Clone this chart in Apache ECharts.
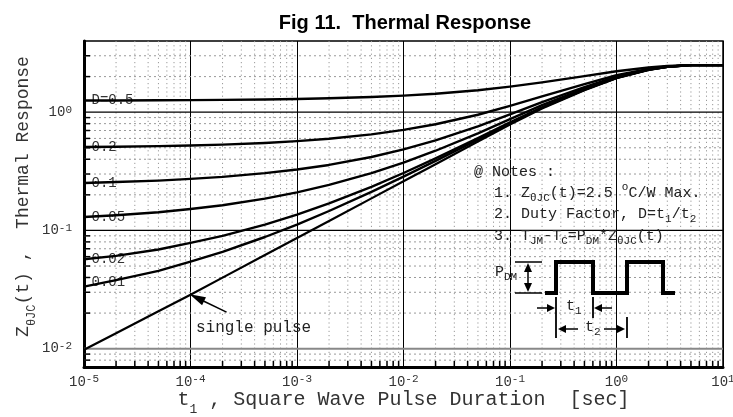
<!DOCTYPE html>
<html><head><meta charset="utf-8">
<script src="https://cdn.jsdelivr.net/npm/echarts@6/dist/echarts.min.js"></script>
<style>html,body{margin:0;padding:0;background:#fff}#c{width:733px;height:417px}</style>
</head><body><div id="c"></div>
<script>
const MONO = '"Liberation Mono", "DejaVu Sans Mono", monospace';
const SANS = '"Liberation Sans", Arial, sans-serif';

// ---- data ----
const pulseDuration = [1e-5, 2e-5, 5e-5, 1e-4, 2e-4, 5e-4, 1e-3, 2e-3, 5e-3, 1e-2, 2e-2, 5e-2, 0.1, 0.2, 0.5, 1, 2, 3, 5, 10];
const singlePulse = [0.0098, 0.01352, 0.0207, 0.02858, 0.0399, 0.0619, 0.0863, 0.1203, 0.1868, 0.2606, 0.3634, 0.5643, 0.787, 1.074, 1.535, 1.94, 2.28, 2.42, 2.5, 2.5];
const duty001 = [0.0335, 0.038, 0.0455, 0.0545, 0.066, 0.088, 0.112, 0.146, 0.212, 0.285, 0.387, 0.586, 0.806, 1.09, 1.55, 1.95, 2.29, 2.42, 2.5, 2.5];
const duty002 = [0.057, 0.061, 0.069, 0.0785, 0.090, 0.112, 0.136, 0.169, 0.234, 0.306, 0.407, 0.604, 0.822, 1.10, 1.555, 1.952, 2.285, 2.42, 2.5, 2.5];
const duty005 = [0.130, 0.1345, 0.1425, 0.152, 0.1635, 0.186, 0.210, 0.2425, 0.305, 0.375, 0.472, 0.663, 0.874, 1.146, 1.585, 1.97, 2.29, 2.424, 2.5, 2.5];
const duty01  = [0.252, 0.2565, 0.264, 0.273, 0.284, 0.305, 0.3275, 0.358, 0.418, 0.4845, 0.577, 0.758, 0.958, 1.217, 1.632, 1.996, 2.30, 2.428, 2.5, 2.5];
const duty02  = [0.507, 0.5108, 0.5166, 0.5229, 0.5319, 0.5495, 0.569, 0.5962, 0.6494, 0.7085, 0.7907, 0.9514, 1.1296, 1.3592, 1.728, 2.052, 2.324, 2.436, 2.5, 2.5];
const duty05  = [1.255, 1.2568, 1.2604, 1.2643, 1.27, 1.281, 1.293, 1.310, 1.343, 1.380, 1.432, 1.532, 1.6435, 1.787, 2.0175, 2.22, 2.39, 2.46, 2.5, 2.5];
const curveLabels = ['D=0.5', '0.2', '0.1', '0.05', '0.02', '0.01'];

const X_MIN = 1e-5, X_MAX = 10;
const Y_MIN = 0.007, Y_MAX = 4;
const xDecades = [1e-5, 1e-4, 1e-3, 1e-2, 1e-1, 1];
const minorMultipliers = [2, 3, 4, 5, 6, 7, 8, 9];
const yMinorTicks = [0.008, 0.009, 0.02, 0.03, 0.04, 0.05, 0.06, 0.07, 0.08, 0.09, 0.2, 0.3, 0.4, 0.5, 0.6, 0.7, 0.8, 0.9, 2, 3];
const yMajorTicks = [0.01, 0.1, 1];
const arrowTail = [2.18e-4, 0.0204];
const singleLabelAt = [1.125e-4, 0.0151];

const xMinorTicks = [];
xDecades.forEach(d => minorMultipliers.forEach(m => xMinorTicks.push(m * d)));

const dutyCurves = [duty05, duty02, duty01, duty005, duty002, duty001];

function powerLabel(v) {
  const e = Math.log10(v), r = Math.round(e);
  if (Math.abs(e - r) > 1e-6) return '';
  return '{b|10}{p|' + (r < 0 ? '-' + (-r) : r) + '}';
}
const labelRich = {
  b: {fontFamily: MONO, fontSize: 14, lineHeight: 16, color: '#333'},
  p: {fontFamily: MONO, fontSize: 11, lineHeight: 11, verticalAlign: 'top', color: '#333'}
};

const chart = echarts.init(document.getElementById('c'), null, {renderer: 'canvas', width: 733, height: 417});

const lineSeries = dutyCurves.map((vals, k) => ({
  type: 'line', name: curveLabels[k],
  data: pulseDuration.map((t, i) => [t, vals[i]]),
  showSymbol: false, symbol: 'none', smooth: false,
  lineStyle: {color: '#000', width: 2.4, join: 'round'}, z: 5, silent: true,
  markPoint: {
    symbol: 'circle', symbolSize: 1, itemStyle: {color: 'rgba(0,0,0,0)'}, silent: true,
    label: {show: true, position: 'right', distance: 7, formatter: curveLabels[k],
      color: '#333', fontFamily: MONO, fontSize: 14, offset: [0, k === 5 ? -4 : 0]},
    data: [{coord: [pulseDuration[0], vals[0]]}]
  }
}));
lineSeries.push({
  type: 'line', name: 'single pulse',
  data: pulseDuration.map((t, i) => [t, singlePulse[i]]),
  showSymbol: false, symbol: 'none', smooth: false,
  lineStyle: {color: '#000', width: 2.2, join: 'round'}, z: 5, silent: true
});

const gridSeries = [
  { // vertical dotted minor lines + bottom ticks
    type: 'custom', silent: true, z: 1, clip: false,
    data: xMinorTicks.map(v => [v, Y_MIN]), encode: {x: 0, y: 1},
    renderItem(params, api) {
      const cs = params.coordSys;
      const x = api.coord([api.value(0), Y_MIN])[0];
      const yb = cs.y + cs.height;
      return {type: 'group', children: [
        {type: 'line', shape: {x1: x, y1: cs.y, x2: x, y2: yb}, style: {stroke: '#999', lineWidth: 1, lineDash: [1.2, 3]}},
        {type: 'line', shape: {x1: x, y1: yb, x2: x, y2: yb - 6}, style: {stroke: '#000', lineWidth: 1.5}}
      ]};
    }
  },
  { // horizontal dotted minor lines + left ticks
    type: 'custom', silent: true, z: 1, clip: false,
    data: yMinorTicks.map(v => [X_MIN, v]), encode: {x: 0, y: 1},
    renderItem(params, api) {
      const cs = params.coordSys;
      const y = api.coord([X_MIN, api.value(1)])[1];
      return {type: 'group', children: [
        {type: 'line', shape: {x1: cs.x, y1: y, x2: cs.x + cs.width, y2: y}, style: {stroke: '#999', lineWidth: 1, lineDash: [2, 3]}},
        {type: 'line', shape: {x1: cs.x, y1: y, x2: cs.x + 6, y2: y}, style: {stroke: '#000', lineWidth: 1.5}}
      ]};
    }
  },
  { // horizontal major lines
    type: 'custom', silent: true, z: 2, clip: false,
    data: yMajorTicks.map(v => [X_MIN, v]), encode: {x: 0, y: 1},
    renderItem(params, api) {
      const cs = params.coordSys;
      const v = api.value(1);
      const y = api.coord([X_MIN, v])[1];
      const first = params.dataIndex === 0;
      return {type: 'line', shape: {x1: cs.x, y1: y, x2: cs.x + cs.width, y2: y},
        style: {stroke: first ? '#888' : '#000', lineWidth: first ? 2 : 1.2}};
    }
  }
];

const noteRich = {
  m: {fontFamily: MONO, fontSize: 15, lineHeight: 22, fill: '#222'},
  s: {fontFamily: MONO, fontSize: 11, lineHeight: 11, verticalAlign: 'bottom', fill: '#222'},
  p: {fontFamily: MONO, fontSize: 11, lineHeight: 11, verticalAlign: 'top', fill: '#222'}
};
function noteText(x, y, text) {
  return {type: 'text', x, y, z: 20, silent: true,
    style: {text, rich: noteRich, fill: '#222', font: '15px ' + MONO, verticalAlign: 'middle', align: 'left'}};
}
function head(tx, ty, dx, dy, len, hw) {
  const bx = tx - dx * len, by = ty - dy * len;
  const px = -dy, py = dx;
  return {type: 'polygon', z: 20, silent: true,
    shape: {points: [[tx, ty], [bx + px * hw, by + py * hw], [bx - px * hw, by - py * hw]]},
    style: {fill: '#000'}};
}
function seg(x1, y1, x2, y2, w) {
  return {type: 'line', z: 20, silent: true, shape: {x1, y1, x2, y2}, style: {stroke: '#000', lineWidth: w || 1.5}};
}

const diagram = [
  noteText(474, 172, '{m|@ Notes :}'),
  noteText(494, 193, '{m|1. Z}{s|θJC}{m|(t)=2.5 }{p|o}{m|C/W Max.}'),
  noteText(494, 214, '{m|2. Duty Factor, D=t}{s|1}{m|/t}{s|2}'),
  noteText(494, 236, '{m|3. T}{s|JM}{m|-T}{s|C}{m|=P}{s|DM}{m|*Z}{s|θJC}{m|(t)}'),
  noteText(495, 272, '{m|P}{s|DM}'),
  noteText(566, 306, '{m|t}{s|1}'),
  noteText(585, 327, '{m|t}{s|2}'),
  {type: 'polyline', z: 20, silent: true,
    shape: {points: [[545, 293], [556, 293], [556, 262], [593, 262], [593, 293], [627, 293], [627, 262], [663, 262], [663, 293], [675, 293]]},
    style: {stroke: '#000', lineWidth: 4, fill: null, lineJoin: 'miter'}},
  seg(515, 262, 542, 262), seg(515, 293, 542, 293),
  seg(528, 268, 528, 287), head(528, 263, 0, -1, 9, 4), head(528, 292, 0, 1, 9, 4),
  seg(556, 297, 556, 338, 1.8), seg(593, 297, 593, 318, 1.8), seg(627, 317, 627, 338, 1.8),
  seg(537, 308, 549, 308), head(555, 308, 1, 0, 8, 4),
  seg(612, 308, 600, 308), head(594, 308, -1, 0, 8, 4),
  seg(578, 329, 564, 329), head(558, 329, -1, 0, 8, 4),
  seg(604, 329, 619, 329), head(625, 329, 1, 0, 8, 4)
];

chart.setOption({
  animation: false,
  backgroundColor: '#fff',
  title: {text: 'Fig 11.  Thermal Response', left: 400, textAlign: 'center', top: 8,
    textStyle: {fontFamily: SANS, fontWeight: 'bold', fontSize: 20, color: '#000'}},
  grid: {left: 84, right: 10, top: 41, bottom: 50, show: true, borderColor: '#000', borderWidth: 1.5,
    containLabel: false, outerBoundsMode: 'none'},
  xAxis: {
    type: 'log', logBase: 10, min: X_MIN, max: X_MAX,
    axisLine: {show: true, onZero: false, lineStyle: {color: '#000', width: 3}},
    axisTick: {show: false}, minorTick: {show: false},
    splitLine: {show: true, lineStyle: {color: '#000', width: 1}},
    axisLabel: {formatter: powerLabel, margin: 7, rich: labelRich, showMinLabel: true, showMaxLabel: true},
    name: '{m|t}{s|1}{m| , Square Wave Pulse Duration  [sec]}',
    nameLocation: 'middle', nameGap: 17, nameMoveOverlap: false,
    nameTextStyle: {fontFamily: MONO, fontSize: 20, color: '#333', rich: {
      m: {fontFamily: MONO, fontSize: 20, lineHeight: 32, color: '#333'},
      s: {fontFamily: MONO, fontSize: 13, lineHeight: 13, verticalAlign: 'bottom', color: '#333'}}}
  },
  yAxis: {
    type: 'log', logBase: 10, min: Y_MIN, max: Y_MAX,
    axisLine: {show: true, onZero: false, lineStyle: {color: '#000', width: 3}},
    axisTick: {show: false}, minorTick: {show: false},
    splitLine: {show: false},
    axisLabel: {formatter: powerLabel, margin: 12, rich: labelRich},
    name: '{m|Z}{s|θJC}{m|(t) ,  Thermal Response}',
    nameLocation: 'middle', nameGap: 46, nameMoveOverlap: false,
    nameTextStyle: {fontFamily: MONO, fontSize: 18, color: '#333', padding: [0, 0, 0, 15], rich: {
      m: {fontFamily: MONO, fontSize: 18, lineHeight: 30, color: '#333'},
      s: {fontFamily: MONO, fontSize: 12, lineHeight: 12, verticalAlign: 'bottom', color: '#333'}}}
  },
  series: gridSeries.concat(lineSeries)
});

const tip = chart.convertToPixel({gridIndex: 0}, [pulseDuration[3], singlePulse[3]]);
const tail = chart.convertToPixel({gridIndex: 0}, arrowTail);
const lab = chart.convertToPixel({gridIndex: 0}, singleLabelAt);
const dx = tip[0] - tail[0], dy = tip[1] - tail[1], L = Math.hypot(dx, dy);
const ux = dx / L, uy = dy / L;
diagram.push(seg(tail[0], tail[1], tip[0] - ux * 12, tip[1] - uy * 12, 1.5));
diagram.push(head(tip[0] + ux * 1, tip[1] + uy * 1, ux, uy, 16, 4.5));
diagram.push({type: 'text', x: lab[0], y: lab[1], z: 20, silent: true,
  style: {text: 'single pulse', fill: '#222', font: '16px ' + MONO, verticalAlign: 'middle', align: 'left'}});

chart.setOption({graphic: diagram});
</script></body></html>
